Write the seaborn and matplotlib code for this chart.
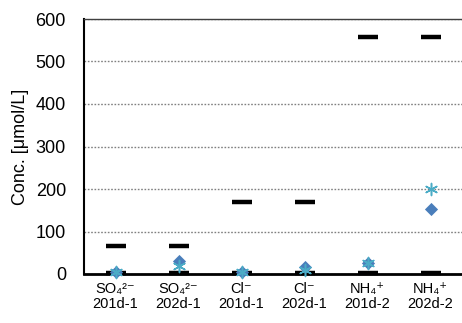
import matplotlib
matplotlib.use("Agg")
import matplotlib.pyplot as plt
import seaborn as sns
import pandas as pd
from matplotlib.ticker import FixedLocator

categories = ["SO\u2084\u00b2\u207b\n201d-1", "SO\u2084\u00b2\u207b\n202d-1", "Cl\u207b\n201d-1",
              "Cl\u207b\n202d-1", "NH\u2084\u207a\n201d-2", "NH\u2084\u207a\n202d-2"]
upper_limit = [65, 65, 170, 170, 558, 558]
lower_limit = [2, 2, 2, 2, 2, 2]
diamond_vals = [5, 30, 5, 16, 25, 153]
star_vals = [5, 18, 5, 9, 25, 199]
yticks = [0, 100, 200, 300, 400, 500, 600]

sns.set_theme(style="white")
plt.rcParams['font.family'] = ['Liberation Sans', 'DejaVu Sans']
plt.rcParams['text.color'] = 'black'
plt.rcParams['xtick.color'] = 'black'
plt.rcParams['ytick.color'] = 'black'
plt.rcParams['axes.labelcolor'] = 'black'

fig = plt.figure(figsize=(4.62, 3.23), dpi=100)
ax = fig.add_axes([84/462, 1-274/323, 1-84/462, 255/323])

x = list(range(len(categories)))
df = pd.DataFrame({"x": x, "up": upper_limit, "lo": lower_limit,
                   "d": diamond_vals, "s": star_vals})

sns.scatterplot(data=df, x="x", y="up", marker="_", s=190, linewidth=3.2,
                color="black", edgecolor="black", ax=ax, zorder=3, clip_on=False)
sns.scatterplot(data=df, x="x", y="lo", marker="_", s=190, linewidth=3.2,
                color="black", edgecolor="black", ax=ax, zorder=3, clip_on=False)
sns.scatterplot(data=df, x="x", y="d", marker="D", s=45, linewidth=0,
                color="#4a7ebb", ax=ax, zorder=4, clip_on=False)
sns.scatterplot(data=df, x="x", y="s", marker=(6, 2, 0), s=75, linewidth=1.1,
                color="#4bacc6", edgecolor="#4bacc6", ax=ax, zorder=5, clip_on=False)

ax.set_xlim(-0.5, 5.5)
ax.set_ylim(0, 600)
ax.set_yticks(yticks)
ax.set_yticklabels([str(v) for v in yticks], fontsize=13)
ax.set_xticks(x)
ax.set_xticklabels(categories, fontsize=10.5, linespacing=1.1)
ax.xaxis.set_minor_locator(FixedLocator([0.5, 1.5, 2.5, 3.5, 4.5]))
ax.tick_params(axis='x', which='major', length=0, pad=6)
ax.tick_params(axis='x', which='minor', direction='inout', length=9, width=1, color='black')
ax.tick_params(axis='y', length=0, pad=13)
ax.set_xlabel("")
ax.set_ylabel("Conc. [\u03bcmol/L]", fontsize=13, labelpad=5)

ax.yaxis.grid(True, linestyle=(0, (1.2, 1.2)), color="#808080", linewidth=1)
ax.set_axisbelow(True)
ax.spines["right"].set_visible(False)
ax.spines["top"].set_color("#404040")
ax.spines["top"].set_linewidth(1)
ax.spines["left"].set_color("black")
ax.spines["left"].set_linewidth(1.5)
ax.spines["bottom"].set_color("black")
ax.spines["bottom"].set_linewidth(2)
ax.spines["bottom"].set_zorder(2.5)

fig.savefig("out.png", dpi=100)
